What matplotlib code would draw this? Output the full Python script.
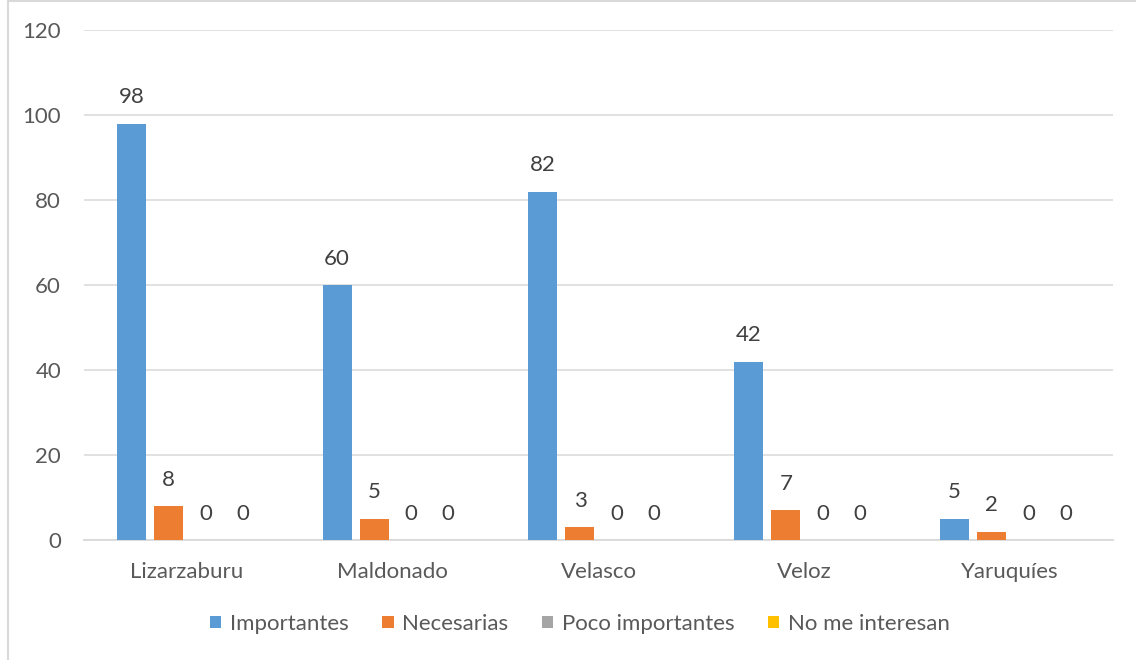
import numpy as np
import matplotlib
matplotlib.use("Agg")
import matplotlib.pyplot as plt
from matplotlib.patches import Patch
from matplotlib.lines import Line2D

plt.rcParams['font.family'] = ['Lato', 'DejaVu Sans']

# Data
categories = ['Lizarzaburu', 'Maldonado', 'Velasco', 'Veloz', 'Yaruquíes']
series_names = ['Importantes', 'Necesarias', 'Poco importantes', 'No me interesan']
importantes = [98, 60, 82, 42, 5]
necesarias = [8, 5, 3, 7, 2]
poco_importantes = [0, 0, 0, 0, 0]
no_me_interesan = [0, 0, 0, 0, 0]
yticks = [0, 20, 40, 60, 80, 100, 120]

series = [importantes, necesarias, poco_importantes, no_me_interesan]
colors = ['#5b9bd5', '#ed7d31', '#a5a5a5', '#ffc000']
FS = 16

fig = plt.figure(figsize=(11.36, 6.6), dpi=100)
ax = fig.add_axes([84 / 1136, 1 - 540 / 660, (1113 - 84) / 1136, 510 / 660])

x = np.arange(len(categories))
bar_w = 0.141
step = 0.18
for i, (vals, col) in enumerate(zip(series, colors)):
    pos = x + (i - 1.5) * step
    bars = ax.bar(pos, vals, width=bar_w, color=col, zorder=3)
    for b, v in zip(bars, vals):
        ax.annotate(str(v), (b.get_x() + b.get_width() / 2, v),
                    xytext=(0, 19), textcoords='offset points',
                    ha='center', va='center', fontsize=FS, color='#404040')

ax.set_xlim(-0.5, len(categories) - 0.5)
ax.set_ylim(0, 120)
ax.set_yticks(yticks)
ax.set_xticks(x)
ax.set_xticklabels(categories)
ax.tick_params(axis='both', length=0, labelsize=FS, colors='#595959')
ax.tick_params(axis='y', pad=16.5)
ax.tick_params(axis='x', pad=16)
ax.grid(axis='y', color='#d9d9d9', linewidth=1.1, zorder=0)
for s in ['top', 'right', 'left']:
    ax.spines[s].set_visible(False)
ax.spines['bottom'].set_color('#d9d9d9')
ax.spines['bottom'].set_linewidth(1.3)

handles = [Patch(facecolor=c, edgecolor='none') for c in colors]
fig.legend(handles, series_names, loc='center', bbox_to_anchor=(580 / 1136, 1 - 624 / 660),
           ncol=4, frameon=False, fontsize=FS, handlelength=0.5, handleheight=0.5,
           handletextpad=0.4, columnspacing=1.5, labelcolor='#595959')

# chart border (left and top edges visible)
fig.add_artist(Line2D([7.5 / 1136, 7.5 / 1136], [0, 1], transform=fig.transFigure,
                      color='#d9d9d9', linewidth=1.5))
fig.add_artist(Line2D([7.5 / 1136, 1], [1 - 1 / 660, 1 - 1 / 660], transform=fig.transFigure,
                      color='#d9d9d9', linewidth=1.5))

fig.savefig('out.png', dpi=100, facecolor='white')
